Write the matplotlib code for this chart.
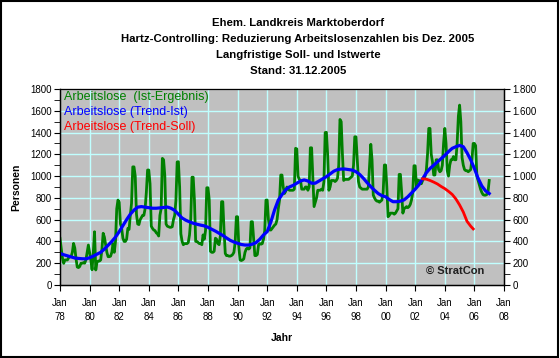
import matplotlib
matplotlib.use("Agg")
import matplotlib.pyplot as plt
import matplotlib.patches as patches
import numpy as np

plt.rcParams['font.family'] = ['Liberation Sans', 'DejaVu Sans']

# Arbeitslose (Ist-Ergebnis), monthly Jan..Dec, starting Jan 1978
ist_1978_1987 = [
    [428, 337, 245, 199, 230, 230, 230, 250, 260, 260, 300, 382],      # 1978
    [340, 240, 165, 160, 170, 200, 200, 205, 200, 230, 300, 367],      # 1979
    [300, 230, 140, 300, 489, 138, 210, 220, 220, 230, 330, 475],      # 1980
    [440, 370, 300, 260, 260, 265, 300, 380, 300, 400, 700, 780],      # 1981
    [760, 560, 520, 430, 400, 400, 420, 520, 510, 640, 750, 1085],     # 1982
    [1085, 1000, 650, 560, 555, 600, 620, 640, 640, 700, 850, 1056],   # 1983
    [1056, 930, 540, 520, 505, 500, 480, 470, 450, 640, 700, 1163],    # 1984
    [1150, 1000, 560, 540, 535, 530, 530, 535, 600, 640, 780, 1130],   # 1985
    [1132, 900, 470, 400, 370, 380, 380, 380, 390, 460, 600, 990],     # 1986
    [990, 780, 400, 400, 390, 380, 380, 370, 460, 420, 500, 893],      # 1987
]
ist_1988_1997 = [
    [893, 780, 310, 300, 300, 310, 430, 420, 380, 370, 450, 765],      # 1988
    [765, 500, 290, 270, 270, 265, 265, 270, 280, 300, 390, 627],      # 1989
    [627, 350, 230, 225, 230, 240, 300, 330, 340, 330, 340, 581],      # 1990
    [581, 430, 270, 270, 280, 370, 380, 375, 380, 420, 500, 780],      # 1991
    [780, 600, 505, 505, 520, 535, 550, 560, 600, 700, 780, 1010],     # 1992
    [1010, 900, 840, 860, 900, 880, 870, 870, 870, 870, 880, 1255],    # 1993
    [1250, 1000, 970, 960, 880, 880, 880, 900, 900, 870, 900, 1260],  # 1994
    [1260, 1000, 720, 760, 800, 870, 870, 870, 880, 870, 950, 1400],   # 1995
    [1402, 1200, 870, 900, 960, 960, 960, 950, 960, 980, 1100, 1520],  # 1996
    [1500, 1200, 960, 970, 970, 970, 970, 980, 990, 1000, 1100, 1361], # 1997
]
ist_1998_2007 = [
    [1361, 1150, 950, 900, 890, 880, 880, 880, 880, 880, 900, 1100],       # 1998
    [1292, 1150, 826, 800, 780, 770, 770, 760, 770, 780, 850, 1102],       # 1999
    [1102, 900, 627, 640, 660, 660, 660, 650, 660, 680, 700, 1016],        # 2000
    [1016, 850, 660, 700, 710, 720, 710, 720, 740, 780, 850, 1095],        # 2001
    [1095, 905, 964, 960, 950, 930, 960, 980, 1000, 1050, 1200, 1438],     # 2002
    [1438, 1200, 1132, 1010, 1010, 1150, 1150, 1060, 1040, 1050, 1100, 1300],  # 2003
    [1438, 1300, 1050, 1000, 1100, 1150, 1150, 1180, 1150, 1150, 1300, 1550],  # 2004
    [1652, 1500, 1170, 1100, 1060, 1050, 1050, 1040, 1050, 1060, 1150, 1300],  # 2005
    [1300, 1280, 1000, 960, 920, 880, 850, 830, 825, 825, 830, 850],       # 2006
    [960],                                                                 # 2007
]

# Arbeitslose (Trend-Ist), quarterly (Jan, Apr, Jul, Oct), starting Jan 1978
trend_ist = [
    290, 278, 268, 258,    248, 244, 241, 240,    250, 265, 283, 300,
    330, 365, 400, 440,    490, 545, 600, 650,    688, 715, 720, 715,
    710, 705, 705, 708,    712, 716, 705, 685,    650, 615, 595, 580,
    567, 558, 550, 543,    530, 512, 495, 475,    455, 432, 410, 395,
    383, 372, 367, 367,    375, 390, 420, 460,    490, 580, 690, 780,
    830, 875, 900, 915,    935, 955, 965, 955,    935, 935, 955, 975,
    995, 1020, 1045, 1060, 1065, 1065, 1060, 1055, 1040, 1015, 980, 940,
    903, 870, 840, 820,    810, 785, 765, 765,    770, 782, 810, 845,
    880, 920, 975, 1030,   1070, 1100, 1130, 1160, 1190, 1225, 1255, 1270,
    1282, 1270, 1215, 1150, 1070, 980, 910, 865,  840,
]

# Arbeitslose (Trend-Soll)
soll_jahr = [2002.5, 2002.75, 2003.0, 2003.25, 2003.5, 2003.75, 2004.0, 2004.25,
             2004.5, 2004.75, 2005.0, 2005.25, 2005.5, 2005.75, 2005.92]
trend_soll = [975, 972, 960, 945, 928, 905, 885, 860, 832, 790, 735, 670, 585, 540, 515]

titel = ["Ehem. Landkreis Marktoberdorf",
         "Hartz-Controlling: Reduzierung Arbeitslosenzahlen bis Dez. 2005",
         "Langfristige Soll- und Istwerte",
         "Stand: 31.12.2005"]
legende = ["Arbeitslose  (Ist-Ergebnis)", "Arbeitslose (Trend-Ist)", "Arbeitslose (Trend-Soll)"]
farben = ['#008000', '#0000FF', '#FF0000']

ist = [v for jahr in ist_1978_1987 + ist_1988_1997 + ist_1998_2007 for v in jahr]
ist_t = 1978 + np.arange(len(ist)) / 12.0
trend_t = 1978 + np.arange(len(trend_ist)) / 4.0

fig = plt.figure(figsize=(5.6, 3.58), dpi=100, facecolor='white')
ax = fig.add_axes([60 / 560, 1 - 285 / 358, 444 / 560, 196 / 358])
ax.set_facecolor('#C0C0C0')

# grid
for x in range(1980, 2008, 2):
    ax.axvline(x, color='#C0FFFF', lw=1, zorder=1)
for y in range(200, 1800, 200):
    ax.axhline(y, color='#C0FFFF', lw=1, zorder=1)

ax.plot(ist_t, ist, color=farben[0], lw=2.0, zorder=3)
ax.plot(trend_t, trend_ist, color=farben[1], lw=2.3, zorder=4)
ax.plot(soll_jahr, trend_soll, color=farben[2], lw=2.0, zorder=4)

ax.set_xlim(1978, 2008)
ax.set_ylim(0, 1800)
jahre = list(range(1978, 2009, 2))
ax.set_xticks(jahre)
ax.set_xticklabels([f"Jan\n{j % 100:02d}" for j in jahre], fontsize=7, linespacing=1.6)
ax.set_yticks(range(0, 1801, 200))
ax.set_yticks(range(100, 1800, 200), minor=True)
ax.set_yticklabels([str(v) for v in range(0, 1801, 200)], fontsize=7)
ax.tick_params(axis='x', direction='out', length=4, pad=5)
ax.tick_params(axis='y', which='both', direction='out', length=4, pad=2)
for s in ax.spines.values():
    s.set_color('black')
    s.set_linewidth(1)
ax.spines['top'].set_color('#808080')

ax2 = ax.twinx()
ax2.set_ylim(0, 1800)
ax2.set_yticks(range(0, 1801, 200))
ax2.set_yticks(range(100, 1800, 200), minor=True)
ax2.set_yticklabels([f"{v:,}".replace(',', '.') for v in range(0, 1801, 200)], fontsize=7)
ax2.tick_params(axis='y', which='both', direction='out', length=4, pad=2)
ax2.spines['right'].set_color('black')

ax.set_xlabel("Jahr", fontsize=7.5, fontweight='bold', labelpad=8)
ax.set_ylabel("Personen", fontsize=7.5, fontweight='bold', labelpad=6)

for i, t in enumerate(titel):
    fig.text(298 / 560, 1 - (23 + 16 * i) / 358, t, ha='center', va='center',
             fontsize=8.2, fontweight='bold')

for i, (t, c) in enumerate(zip(legende, farben)):
    ax.text(0.008, 1 - (8 + 15 * i) / 196, t, transform=ax.transAxes,
            color=c, fontsize=9, ha='left', va='center')

ax.text(0.955, 0.07, "© StratCon", transform=ax.transAxes, ha='right', va='center',
        fontsize=8, fontweight='bold', color='#202020')

fig.patches.append(patches.Rectangle((0.002, 0.003), 0.995, 0.994, transform=fig.transFigure,
                                     fill=False, edgecolor='black', lw=1.5))

fig.savefig("out.png", dpi=100)
